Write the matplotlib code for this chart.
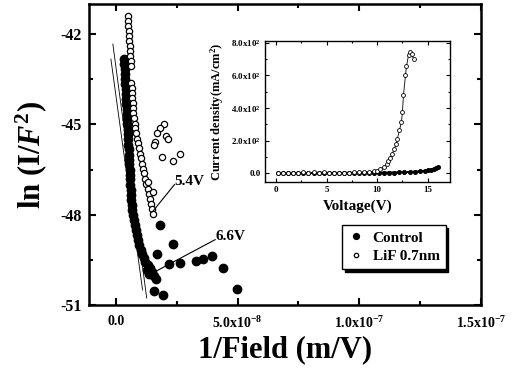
import matplotlib
matplotlib.use("Agg")
import matplotlib.pyplot as plt
from matplotlib.ticker import MultipleLocator
import numpy as np

# bold Times-like look of the scanned figure
plt.rcParams['font.family'] = ['Liberation Serif', 'DejaVu Serif']
plt.rcParams['font.weight'] = 'bold'
plt.rcParams['axes.labelweight'] = 'bold'
plt.rcParams['axes.unicode_minus'] = False
plt.rcParams['mathtext.fontset'] = 'custom'
plt.rcParams['mathtext.rm'] = 'Liberation Serif:bold'
plt.rcParams['mathtext.it'] = 'Liberation Serif:italic:bold'
plt.rcParams['mathtext.bf'] = 'Liberation Serif:bold'

# ---- main plot data, x in units of 1e-8 m/V, y = ln(I/F^2) ----
ctrl_x = [0.33, 0.35, 0.37, 0.37, 0.39, 0.39, 0.41, 0.41, 0.43, 0.43, 0.45, 0.45,
          0.47, 0.47, 0.49, 0.49, 0.51, 0.51, 0.53, 0.53, 0.55, 0.55, 0.57, 0.57,
          0.59, 0.59, 0.61, 0.61, 0.63, 0.65, 0.67, 0.69, 0.73, 0.78, 0.82, 0.86,
          0.90, 0.94, 1.02, 1.06, 1.14, 1.22, 1.31, 1.39, 1.27, 1.47, 1.35, 1.59,
          1.67, 1.80, 2.33, 1.71, 2.20, 2.65, 3.31, 3.59, 3.96, 4.41, 1.59, 1.92, 4.98]
ctrl_y = [-42.83, -43.00, -43.17, -43.33, -43.50, -43.67, -43.83, -44.00, -44.17, -44.33,
          -44.50, -44.67, -44.83, -45.00, -45.17, -45.33, -45.50, -45.67, -45.83, -46.00,
          -46.17, -46.33, -46.50, -46.67, -46.83, -47.00, -47.17, -47.33, -47.50, -47.67,
          -47.83, -48.00, -48.17, -48.33, -48.50, -48.67, -48.83, -49.00, -49.17, -49.30,
          -49.43, -49.57, -49.67, -49.77, -49.83, -49.90, -49.97, -50.03, -50.13, -48.33,
          -48.97, -49.30, -49.63, -49.60, -49.53, -49.47, -49.37, -49.77, -50.53, -50.67, -50.47]

lif_x = [0.49, 0.49, 0.51, 0.53, 0.53, 0.55, 0.57, 0.57, 0.59, 0.61, 0.61,
         0.63, 0.65, 0.65, 0.67, 0.69, 0.69, 0.71, 0.73, 0.78, 0.80, 0.82, 0.86,
         0.90, 0.94, 0.98, 1.02, 1.06, 1.10, 1.14, 1.18, 1.24, 1.31, 1.35, 1.39,
         1.43, 1.47, 1.51,
         1.96, 1.80, 1.71, 2.08, 2.16, 1.63, 1.55, 2.65, 1.88, 2.33, 1.31, 1.51]
lif_y = [-41.40, -41.57, -41.73, -41.90, -42.07, -42.23, -42.40, -42.57, -42.73, -42.90, -43.07,
         -43.63, -43.80, -43.97, -44.13, -44.30, -44.47, -44.63, -44.80, -44.97, -45.13, -45.30,
         -45.47, -45.63, -45.80, -45.97, -46.13, -46.30, -46.47, -46.63, -46.80, -46.97, -47.13,
         -47.30, -47.47, -47.63, -47.80, -47.97,
         -44.97, -45.13, -45.30, -45.37, -45.47, -45.57, -45.70, -45.97, -46.07, -46.20, -46.90, -47.23]

# thin fitted lines (end points)
fit1_x = [-0.12, 1.27]
fit1_y = [-42.33, -50.77]
fit2_x = [-0.20, 1.10]
fit2_y = [-42.83, -50.50]

# ---- inset data: J-V ----
ctrl_v = [0.2, 0.7, 1.2, 1.7, 2.2, 2.7, 3.2, 3.7, 4.2, 4.7, 5.2, 5.7, 6.2, 6.7, 7.2, 7.7,
          8.2, 8.7, 9.2, 9.7, 10.2, 10.7, 11.2, 11.7, 12.2, 12.7, 13.2, 13.7, 14.2, 14.7,
          15.0, 15.3, 15.6, 15.8, 16.0]
ctrl_j = [0, 0, 0, 1, 1, 2, 2, 2, 3, 3, 2, 2, 2, 2, 3, 3,
          3, 3, 3, 4, 4, 4, 5, 5, 6, 7, 8, 10, 12, 15,
          18, 22, 27, 32, 38]

lif_v = [0.2, 0.7, 1.2, 1.7, 2.2, 2.7, 3.2, 3.7, 4.2, 4.7, 5.2, 5.7, 6.2, 6.7, 7.2, 7.7,
         8.2, 8.7, 9.2, 9.7, 10.0, 10.3, 10.7, 10.96, 11.1, 11.3, 11.5, 11.7, 11.9, 12.0,
         12.2, 12.4, 12.5, 12.6, 12.8, 12.9, 13.1, 13.2, 13.4, 13.6]
lif_j = [2, 1, 2, 3, 5, 6, 5, 6, 5, 7, 5, 4, 3, 2, 3, 6,
         7, 8, 9, 12, 16, 29, 39, 55, 75, 96, 121, 151, 182, 212,
         263, 314, 375, 478, 600, 655, 723, 743, 729, 703]

fig = plt.figure(figsize=(5.18, 3.71), dpi=100)
ax = fig.add_axes([0.1718, 0.1779, 0.7568, 0.8113])

ax.plot(np.array(fit1_x) * 1e-8, fit1_y, 'k-', lw=0.6)
ax.plot(np.array(fit2_x) * 1e-8, fit2_y, 'k-', lw=0.6)
h1, = ax.plot(np.array(ctrl_x) * 1e-8, ctrl_y, 'o', color='k', ms=6, label='Control')
h2, = ax.plot(np.array(lif_x) * 1e-8, lif_y, 'o', mfc='white', mec='k', mew=0.9, ms=4.5,
              label='LiF 0.7nm')

# voltage labels
ax.plot([1.51e-8, 2.41e-8], [-47.9, -47.0], 'k-', lw=0.8)
ax.text(2.41e-8, -46.9, '5.4V', fontsize=11, va='center', ha='left')
ax.plot([1.67e-8, 4.08e-8], [-49.87, -48.83], 'k-', lw=0.8)
ax.text(4.08e-8, -48.73, '6.6V', fontsize=11, va='center', ha='left')

ax.set_xlim(-1.1e-8, 1.5e-7)
ax.set_ylim(-51, -41)
ax.set_xticks([0, 5e-8, 1e-7, 1.5e-7])
ax.set_xticklabels(['0.0', '5.0x10$^{-8}$', '1.0x10$^{-7}$', '1.5x10$^{-7}$'])
ax.set_yticks([-51, -48, -45, -42])
ax.xaxis.set_minor_locator(MultipleLocator(2.5e-8))
ax.yaxis.set_minor_locator(MultipleLocator(1.5))
ax.tick_params(which='both', direction='in', top=True, right=True, width=1.5)
ax.tick_params(which='major', length=5)
ax.tick_params(which='minor', length=3)
ax.tick_params(axis='x', pad=7, labelsize=10)
ax.tick_params(axis='y', pad=5, labelsize=11.5)
for s in ax.spines.values():
    s.set_linewidth(1.8)

ax.set_xlabel('1/Field (m/V)', fontsize=22, labelpad=3)
ax.set_ylabel('ln (I/$F^2$)', fontsize=22, labelpad=8)

leg = ax.legend(handles=[h1, h2], loc='upper left', bbox_to_anchor=(342 / 518, 1 - 225 / 371),
                bbox_transform=fig.transFigure, borderaxespad=0, fontsize=11,
                fancybox=False, edgecolor='k', framealpha=1, markerscale=0.7,
                handlelength=1.0, handletextpad=0.6, borderpad=0.4, labelspacing=0.3,
                shadow={'color': 'k', 'alpha': 1})
leg.get_frame().set_linewidth(1.0)

# ---- inset ----
axin = fig.add_axes([0.5116, 0.5094, 0.357, 0.380])
axin.plot(ctrl_v, ctrl_j, 'o-', color='k', ms=2.6, lw=1.5)
axin.plot(lif_v, lif_j, 'o-', color='k', mfc='white', mec='k', mew=0.6, ms=2.8, lw=0.6)
axin.set_xlim(-1.1, 17.2)
axin.set_ylim(-53, 810)
axin.set_xticks([0, 5, 10, 15])
axin.set_yticks([0, 200, 400, 600, 800])
axin.set_yticklabels(['0.0', '2.0x10$^2$', '4.0x10$^2$', '6.0x10$^2$', '8.0x10$^2$'])
axin.xaxis.set_minor_locator(MultipleLocator(2.5))
axin.yaxis.set_minor_locator(MultipleLocator(100))
axin.tick_params(which='both', direction='in', top=True, right=True, width=0.8, labelsize=6.5, pad=3)
axin.tick_params(which='major', length=3)
axin.tick_params(which='minor', length=1.5)
for s in axin.spines.values():
    s.set_linewidth(1.0)
axin.set_xlabel('Voltage(V)', fontsize=11, labelpad=4)
axin.set_ylabel('Current density(mA/cm$^2$)', fontsize=9, labelpad=4)

fig.savefig('out.png', dpi=100)
